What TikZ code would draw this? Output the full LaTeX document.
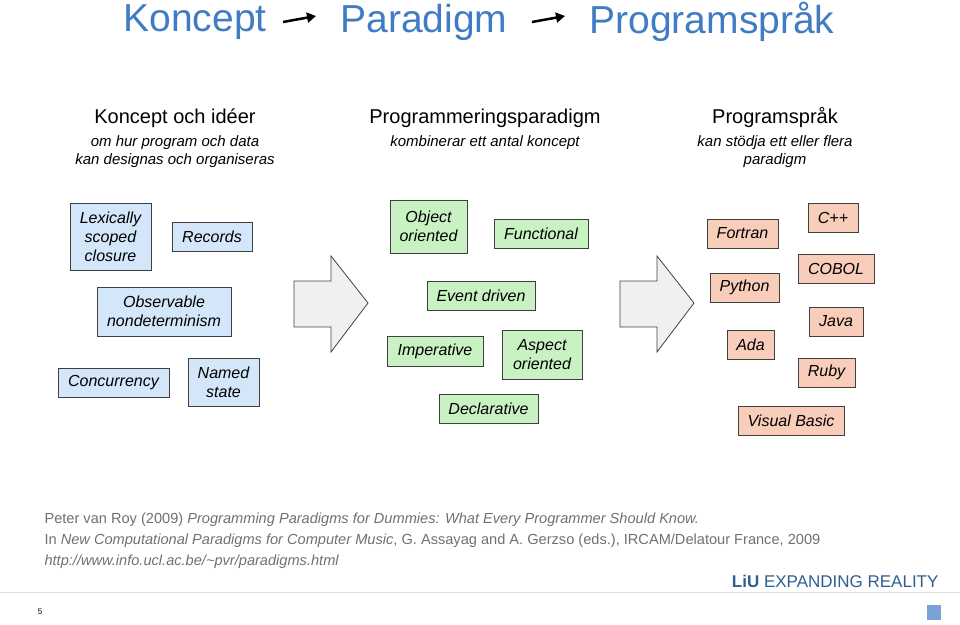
\documentclass[tikz,border=0pt]{standalone}
\usepackage{fontspec}
\setmainfont{Liberation Sans}
\usetikzlibrary{arrows.meta}
\definecolor{ttl}{HTML}{3F7CC4}
\definecolor{bfill}{HTML}{D3E6FA}
\definecolor{gfill}{HTML}{C9F2C2}
\definecolor{rfill}{HTML}{F8CDB9}
\definecolor{bord}{HTML}{404040}
\definecolor{reftxt}{HTML}{707070}
\definecolor{liu}{HTML}{2E5F8F}
\begin{document}
\begin{tikzpicture}[x=1pt,y=-1pt,
  box/.style={draw=bord,line width=1pt,inner sep=1pt,align=center,font=\fontsize{16}{19}\selectfont\itshape},
  bb/.style={box,fill=bfill},gb/.style={box,fill=gfill},rb/.style={box,fill=rfill},
  hd/.style={font=\fontsize{20}{24}\selectfont,align=center},
  sub/.style={font=\fontsize{15}{18}\selectfont\itshape,align=center},
  ref/.style={anchor=west,text=reftxt,font=\fontsize{14.6}{16}\selectfont},
  bigarrow/.style={draw=bord,fill=gray!12,line width=0.8pt},
  tarr/.style={line width=2.5pt,-{Triangle[length=9pt,width=10pt]}}]
\useasboundingbox (0,0) rectangle (960,624);
% title
\node[text=ttl,font=\fontsize{39}{44}\selectfont] (t1) at (195,22) {Koncept};
\node[text=ttl,font=\fontsize{39}{44}\selectfont] (t2) at (424,22) {Paradigm};
\node[text=ttl,font=\fontsize{39}{44}\selectfont] (t3) at (712,22) {Programspråk};
\coordinate (a1) at (283,22); \coordinate (b1) at (316,16);
\coordinate (a2) at (532,22); \coordinate (b2) at (565,16);
\draw[tarr] (a1) -- (b1);
\draw[tarr] (a2) -- (b2);
% headers
\node[hd] (h1) at (175,118) {Koncept och idéer};
\node[sub] (s1) at (175,152) {om hur program och data\\kan designas och organiseras};
\node[hd] (h2) at (485,118) {Programmeringsparadigm};
\node[sub] (s2) at (485,143) {kombinerar ett antal koncept};
\node[hd] (h3) at (775,118) {Programspråk};
\node[sub] (s3) at (775,152) {kan stödja ett eller flera\\paradigm};
% blue
\node[bb,minimum width=81,minimum height=67] (lex) at (110.5,236.5) {Lexically\\scoped\\closure};
\node[bb,minimum width=80,minimum height=29] (rec) at (212,236.5) {Records};
\node[bb,minimum width=134,minimum height=49] (obs) at (164,311.5) {Observable\\nondeterminism};
\node[bb,minimum width=111,minimum height=29] (con) at (113.5,382.5) {Concurrency};
\node[bb,minimum width=71,minimum height=48] (nam) at (223.5,382) {Named\\state};
% arrows
\draw[bigarrow] (294,281) -- (331,281) -- (331,256) -- (368,303) -- (331,352) -- (331,327) -- (294,327) -- cycle;
\draw[bigarrow] (620,281) -- (657,281) -- (657,256) -- (694,303) -- (657,352) -- (657,327) -- (620,327) -- cycle;
% green
\node[gb,minimum width=77,minimum height=53] (oo) at (428.5,226.5) {Object\\oriented};
\node[gb,minimum width=94,minimum height=29] (fun) at (541,233.5) {Functional};
\node[gb,minimum width=108,minimum height=29] (ev) at (481,295.5) {Event driven};
\node[gb,minimum width=96,minimum height=30] (imp) at (435,351) {Imperative};
\node[gb,minimum width=80,minimum height=49] (asp) at (542,354.5) {Aspect\\oriented};
\node[gb,minimum width=99,minimum height=29] (dec) at (488.5,408.5) {Declarative};
% red
\node[rb,minimum width=71,minimum height=29] (for) at (742.5,233.5) {Fortran};
\node[rb,minimum width=50,minimum height=29] (cpp) at (833,217.5) {C++};
\node[rb,minimum width=76,minimum height=29] (cob) at (836,268.5) {COBOL};
\node[rb,minimum width=69,minimum height=29] (py) at (744.5,287.5) {Python};
\node[rb,minimum width=54,minimum height=29] (jav) at (836,321.5) {Java};
\node[rb,minimum width=47,minimum height=29] (ada) at (750.5,344.5) {Ada};
\node[rb,minimum width=57,minimum height=29] (rub) at (826.5,372.5) {Ruby};
\node[rb,minimum width=106,minimum height=29] (vb) at (791,420.5) {Visual Basic};
% references
\node[ref] (r1) at (41,520) {Peter van Roy (2009) \textit{Programming Paradigms for Dummies: What Every Programmer Should Know.}};
\node[ref] (r2) at (41,541) {In \textit{New Computational Paradigms for Computer Music}, G. Assayag and A. Gerzso (eds.), IRCAM/Delatour France, 2009};
\node[ref] (r3) at (41,562) {\textit{http://www.info.ucl.ac.be/\textasciitilde pvr/paradigms.html}};
\node[anchor=east,text=liu,font=\fontsize{17}{20}\selectfont] (liu) at (942,581) {\textbf{LiU} EXPANDING REALITY};
\draw[gray!25,line width=0.8pt] (0,592) -- (960,592);
\node[font=\fontsize{8}{9}\selectfont] (pg) at (40,612) {5};
\fill[ttl!70] (927,605) rectangle (941,620);
\end{tikzpicture}
\end{document}
